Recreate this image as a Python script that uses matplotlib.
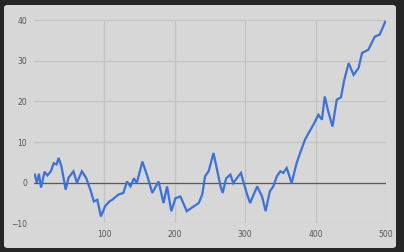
import matplotlib
matplotlib.use("Agg")
import matplotlib.pyplot as plt
from matplotlib.patches import FancyBboxPatch

# passos (random walk)
passo = [1, 4, 7, 10, 15, 19, 24, 28, 32, 35, 39, 45, 49, 56, 61, 68, 74, 80,
         85, 90, 95, 101, 107, 111, 120, 127, 132, 137, 142, 146, 154, 161,
         168, 177, 184, 189, 195, 201, 208, 212, 217, 227, 234, 239, 243, 248,
         255, 260, 265, 268, 273, 279, 283, 288, 294, 298, 302, 307, 313, 317,
         324, 329, 335, 340, 345, 350, 354, 359, 366, 373, 378, 385, 390, 397,
         404, 409, 413, 418, 424, 430, 436, 441, 447, 454, 461, 466, 475, 484,
         491, 499]
valor = [2.0, 0.0, 2.2, -1.2, 2.7, 1.8, 2.8, 4.8, 4.5, 6.1, 4.0, -1.7, 1.2,
         2.8, 0.0, 2.8, 1.2, -1.7, -4.6, -4.2, -8.3, -5.8, -4.6, -4.2, -2.9,
         -2.5, 0.3, -0.9, 1.1, -0.1, 5.2, 1.6, -2.5, 0.3, -5.0, -0.9, -7.0,
         -3.8, -3.4, -5.0, -7.0, -5.8, -5.0, -2.9, 1.6, 2.8, 7.3, 3.2, -0.9,
         -2.5, 1.1, 2.0, -0.1, 1.1, 2.4, -0.1, -2.5, -5.0, -2.5, -0.9, -3.4,
         -7.0, -2.1, -0.9, 1.6, 2.8, 2.4, 3.6, -0.1, 4.8, 7.3, 10.6, 12.2,
         14.3, 16.7, 15.5, 21.2, 17.5, 13.8, 20.4, 21.0, 25.5, 29.4, 26.5,
         28.2, 31.9, 32.7, 35.9, 36.4, 39.6]

xticks = [100, 200, 300, 400, 500]
yticks = [-10, 0, 10, 20, 30, 40]

fig = plt.figure(figsize=(4.04, 2.52), dpi=100)
fig.patch.set_facecolor('#262626')

# painel claro com cantos arredondados
painel = FancyBboxPatch((4 / 404, 4 / 252), 392 / 404, 243 / 252,
                        boxstyle="round,pad=0,rounding_size=0.01",
                        transform=fig.transFigure, facecolor='#d7d7d7',
                        edgecolor='none', zorder=-5)
fig.patches.append(painel)

ax = fig.add_axes([34 / 404, 1 - 223.4 / 252, 352 / 404, 203.4 / 252])
ax.set_zorder(2)
ax.patch.set_alpha(0)

ax.plot(passo, valor, color='#3b72d9', lw=1.6, solid_joinstyle='miter', zorder=3)
ax.axhline(0, color='#5a5a5a', lw=0.9, zorder=2)

ax.set_xlim(0, 500)
ax.set_ylim(-10, 40)
ax.set_xticks(xticks)
ax.set_yticks(yticks)
ax.grid(True, color='#c3c3c3', lw=0.9)
ax.set_axisbelow(True)
for s in ax.spines.values():
    s.set_visible(False)
ax.tick_params(length=0, labelsize=5.5, labelcolor='#555555', pad=5)

plt.savefig('out.png', dpi=100, facecolor=fig.get_facecolor())
